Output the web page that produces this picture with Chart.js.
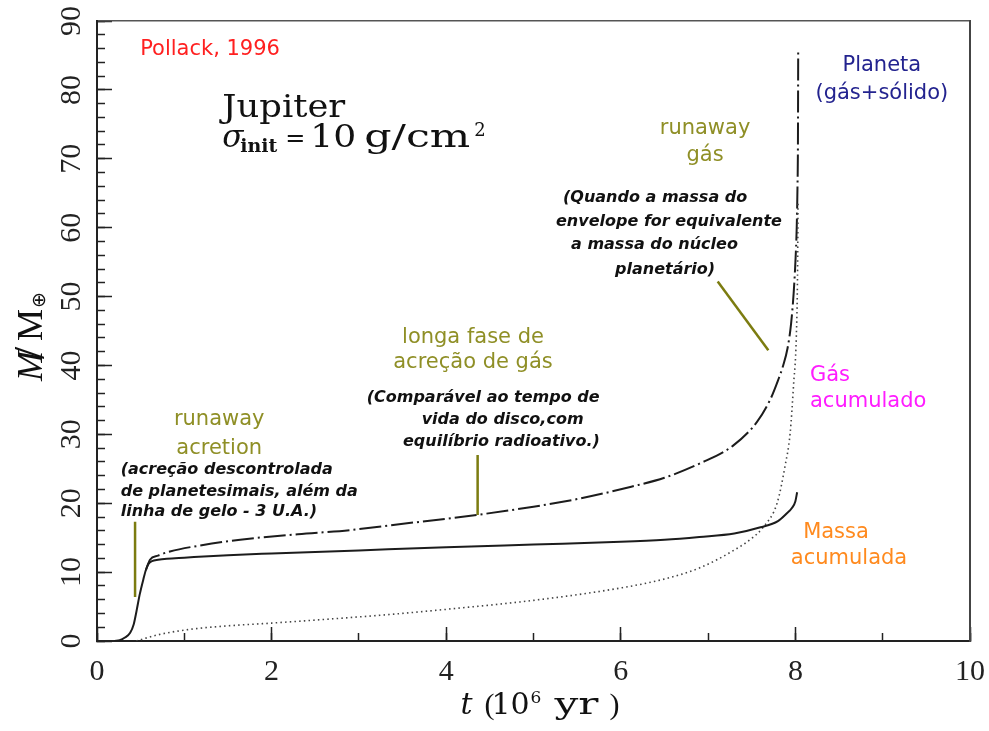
<!DOCTYPE html>
<html>
<head>
<meta charset="utf-8">
<script src="https://cdn.jsdelivr.net/npm/chart.js"></script>
<style>
  html, body { margin: 0; padding: 0; background: #fff; }
  canvas { display: block; }
</style>
</head>
<body>
<canvas id="mass-chart" width="989" height="731"></canvas>
<script>
/* ==========================
   Data (t in 10^6 yr, M in Earth masses)
========================== */
const xTicks = [0, 2, 4, 6, 8, 10];
const yTicks = [0, 10, 20, 30, 40, 50, 60, 70, 80, 90];

// solid core
const coreTime = [0.20, 0.26, 0.32, 0.38, 0.42, 0.455, 0.49, 0.53, 0.56, 0.59, 0.63, 0.70, 0.80, 1.0, 1.5, 2.0, 3.0, 4.0, 5.0, 6.0, 6.5, 6.9, 7.3, 7.6, 7.8, 7.9, 7.96, 8.0, 8.02];
const coreMass = [0, 0.1, 0.5, 1.2, 2.4, 4.5, 6.8, 8.9, 10.3, 11.2, 11.6, 11.8, 11.95, 12.1, 12.45, 12.7, 13.15, 13.6, 14.0, 14.4, 14.7, 15.1, 15.6, 16.5, 17.4, 18.5, 19.3, 20.3, 21.6];

// accreted gas
const gasTime = [0.45, 0.7, 1.07, 1.5, 2.0, 3.0, 3.4, 4.0, 5.0, 6.0, 6.5, 6.9, 7.3, 7.5, 7.63, 7.79, 7.88, 7.94, 7.98, 8.01, 8.025, 8.03];
const gasMass = [0, 0.9, 1.7, 2.2, 2.6, 3.5, 3.9, 4.6, 5.9, 7.7, 9.0, 10.6, 13.2, 14.9, 16.5, 20.0, 25.3, 30.2, 37.4, 44, 54, 63.5];

// total planet mass (gas + solid)
const planetTime = [0.56, 0.607, 0.70, 0.836, 1.2, 1.64, 2.3, 2.9, 3.36, 4.35, 5.0, 5.5, 6.12, 6.5, 6.91, 7.29, 7.56, 7.71, 7.80, 7.86, 7.91, 7.95, 7.98, 8.0, 8.015, 8.024, 8.029, 8.032];
const planetMass = [10.3, 11.8, 12.4, 13.0, 13.9, 14.7, 15.5, 16.1, 16.8, 18.3, 19.5, 20.6, 22.4, 23.7, 25.8, 28.4, 31.8, 35.0, 37.8, 40.0, 42.5, 46.0, 50.5, 55.0, 60.0, 66.0, 72.0, 85.5];

// olive pointer lines
const acretionPointerT = [0.436, 0.436];
const acretionPointerM = [17.3, 6.4];
const longPhasePointerT = [4.36, 4.36];
const longPhasePointerM = [27.0, 18.3];
const runawayPointerT = [7.11, 7.69];
const runawayPointerM = [52.2, 42.2];

const zip = (ts, ms) => ts.map((t, i) => ({ x: t, y: ms[i] }));

/* ==========================
   Styles
========================== */
const ink = '#1c1c1c';
const olive = '#8f8f26';
const oliveLine = '#7c7c10';
const labelFont = '21px "DejaVu Sans"';
const noteFont = 'italic bold 16px "DejaVu Sans"';

// text placed in data coordinates: [text, t, M]
const textLabels = [
  { rows: [['Pollack, 1996', 0.494, 85.8]], font: labelFont, color: '#ff2020', align: 'left' },
  { rows: [['runaway', 1.40, 32.2], ['acretion', 1.40, 28.0]], font: labelFont, color: olive, align: 'center' },
  { rows: [['(acreção descontrolada', 0.272, 24.8], ['de planetesimais, além da', 0.272, 21.7], ['linha de gelo - 3 U.A.)', 0.272, 18.8]], font: noteFont, color: '#111', align: 'left' },
  { rows: [['longa fase de', 4.307, 44.0], ['acreção de gás', 4.307, 40.35]], font: labelFont, color: olive, align: 'center' },
  { rows: [['(Comparável ao tempo de', 3.089, 35.27], ['vida do disco,com', 3.719, 32.08], ['equilíbrio radioativo.)', 3.505, 28.93]], font: noteFont, color: '#111', align: 'left' },
  { rows: [['runaway', 6.965, 74.4], ['gás', 6.965, 70.5]], font: labelFont, color: olive, align: 'center' },
  { rows: [['(Quando a massa do', 5.338, 64.3], ['envelope for equivalente', 5.258, 60.8], ['a massa do núcleo', 5.43, 57.47], ['planetário)', 5.934, 53.85]], font: noteFont, color: '#111', align: 'left' },
  { rows: [['Planeta', 8.99, 83.6], ['(gás+sólido)', 8.99, 79.5]], font: labelFont, color: '#23238f', align: 'center' },
  { rows: [['Gás', 8.167, 38.6], ['acumulado', 8.167, 34.7]], font: labelFont, color: '#ff1cff', align: 'left' },
  { rows: [['Massa', 8.465, 15.8], ['acumulada', 8.614, 11.9]], font: labelFont, color: '#ff8a1e', align: 'center' }
];

// draws text stretched to a given width
function fitText(ctx, text, px, py, width) {
  ctx.save();
  ctx.translate(px, py);
  ctx.scale(width / ctx.measureText(text).width, 1);
  ctx.fillText(text, 0, 0);
  ctx.restore();
}

/* ==========================
   Text plugin: notes, title block, axis titles
========================== */
const textPlugin = {
  id: 'textPlugin',
  afterDatasetsDraw(chart) {
    const { ctx, scales: { x, y } } = chart;
    ctx.save();
    ctx.textBaseline = 'middle';
    textLabels.forEach(lab => {
      ctx.font = lab.font;
      ctx.fillStyle = lab.color;
      ctx.textAlign = lab.align;
      lab.rows.forEach(([text, t, m]) => {
        ctx.fillText(text, x.getPixelForValue(t), y.getPixelForValue(m));
      });
    });

    // Jupiter / sigma_init block
    ctx.textBaseline = 'alphabetic';
    ctx.textAlign = 'left';
    ctx.fillStyle = '#111';
    const jx = x.getPixelForValue(1.435);
    ctx.font = '31px "DejaVu Serif"';
    fitText(ctx, 'Jupiter', jx, y.getPixelForValue(76.1), 123);
    const sy = y.getPixelForValue(71.74);
    ctx.font = 'italic 31px "DejaVu Serif"';
    ctx.fillText('σ', jx, sy);
    ctx.font = 'bold 19px "DejaVu Serif"';
    ctx.fillText('init', jx + 18, sy + 5);
    ctx.font = '24px "DejaVu Serif"';
    ctx.fillText('=', jx + 63, sy - 1);
    ctx.font = '31px "DejaVu Serif"';
    fitText(ctx, '10', jx + 88, sy, 46);
    fitText(ctx, 'g/cm', jx + 142, sy, 106);
    ctx.font = '18px "DejaVu Serif"';
    ctx.fillText('2', jx + 252, sy - 11);

    // x axis title
    const a = chart.chartArea;
    const tx = (a.left + a.right) / 2 - 73;
    const ty = 714;
    ctx.font = 'italic 30px "DejaVu Serif"';
    ctx.fillText('t', tx, ty);
    ctx.font = '30px "Liberation Serif"';
    ctx.fillText('(', tx + 24, ty);
    ctx.font = '30px "DejaVu Serif"';
    ctx.fillText('10', tx + 31, ty);
    ctx.font = '17px "DejaVu Serif"';
    ctx.fillText('6', tx + 70, ty - 11);
    ctx.font = '30px "DejaVu Serif"';
    fitText(ctx, 'yr', tx + 94, ty, 44);
    ctx.font = '30px "Liberation Serif"';
    ctx.fillText(')', tx + 149, ty);

    // y axis title, reads bottom to top
    ctx.translate(42, 381);
    ctx.rotate(-Math.PI / 2);
    ctx.font = 'italic 36px "Liberation Serif"';
    ctx.fillText('M', 0, 0);
    ctx.font = '44px "Liberation Serif"';
    ctx.fillText('/', 22, 2);
    ctx.font = '36px "Liberation Serif"';
    ctx.fillText('M', 40, 0);
    ctx.font = '19px "DejaVu Sans"';
    ctx.fillText('⊕', 73, 3);
    ctx.restore();
  }
};

/* ==========================
   Chart
========================== */
const axisInk = '#222';
const tickFont = { family: 'Liberation Serif', size: 30 };

// keep tick-label overhang from shrinking the plot area
const noPadding = s => { s.paddingLeft = 0; s.paddingRight = 0; s.paddingTop = 0; s.paddingBottom = 0; };

const pointerSet = (ts, ms) => ({
  data: zip(ts, ms),
  borderColor: oliveLine,
  borderWidth: 2.5,
  pointRadius: 0,
  tension: 0
});

new Chart(document.getElementById('mass-chart').getContext('2d'), {
  type: 'line',
  data: {
    datasets: [
      {
        label: 'Massa acumulada',
        data: zip(coreTime, coreMass),
        borderColor: ink,
        borderWidth: 2,
        pointRadius: 0,
        cubicInterpolationMode: 'monotone'
      },
      {
        label: 'Gás acumulado',
        data: zip(gasTime, gasMass),
        borderColor: '#444',
        borderWidth: 1.6,
        borderDash: [1.5, 3.2],
        pointRadius: 0,
        cubicInterpolationMode: 'monotone'
      },
      {
        label: 'Planeta (gás+sólido)',
        data: zip(planetTime, planetMass),
        borderColor: ink,
        borderWidth: 2,
        borderDash: [22, 4, 2, 4],
        pointRadius: 0,
        cubicInterpolationMode: 'monotone'
      },
      pointerSet(acretionPointerT, acretionPointerM),
      pointerSet(longPhasePointerT, longPhasePointerM),
      pointerSet(runawayPointerT, runawayPointerM)
    ]
  },
  options: {
    responsive: false,
    animation: false,
    devicePixelRatio: 1,
    layout: { padding: { top: 21, right: 19, left: 0, bottom: 0 } },
    plugins: {
      legend: { display: false },
      tooltip: { enabled: false }
    },
    scales: {
      x: {
        type: 'linear',
        position: 'bottom',
        min: 0,
        max: 10,
        weight: 1,
        afterBuildTicks: s => { s.ticks = xTicks.map(v => ({ value: v })); },
        ticks: { autoSkip: false, minRotation: 0, maxRotation: 0, padding: 27, color: axisInk, font: tickFont },
        grid: { drawOnChartArea: false, tickLength: -14, tickWidth: 1.5, tickColor: axisInk },
        border: { display: true, color: axisInk, width: 2 },
        afterFit: s => { s.height = 90; noPadding(s); }
      },
      xMinor: {
        type: 'linear',
        position: 'bottom',
        min: 0,
        max: 10,
        weight: 0,
        ticks: { display: false, stepSize: 1 },
        grid: { drawOnChartArea: false, tickLength: -8, tickWidth: 1.5, tickColor: axisInk },
        border: { display: false },
        afterFit: s => { s.height = 0; noPadding(s); }
      },
      xTop: {
        type: 'linear',
        position: 'top',
        min: 0,
        max: 10,
        ticks: { display: false },
        grid: { display: false },
        border: { display: true, color: '#555', width: 1.5 },
        afterFit: s => { s.height = 0; noPadding(s); }
      },
      y: {
        type: 'linear',
        position: 'left',
        min: 0,
        max: 90,
        weight: 1,
        afterBuildTicks: s => { s.ticks = yTicks.map(v => ({ value: v })); },
        ticks: { minRotation: 90, maxRotation: 90, crossAlign: 'center', padding: 25, color: axisInk, font: tickFont },
        grid: { drawOnChartArea: false, tickLength: -15, tickWidth: 1.5, tickColor: axisInk },
        border: { display: true, color: axisInk, width: 2 },
        afterFit: s => { s.width = 97; noPadding(s); }
      },
      yMinor: {
        type: 'linear',
        position: 'left',
        min: 0,
        max: 90,
        weight: 0,
        ticks: { display: false, stepSize: 2 },
        grid: { drawOnChartArea: false, tickLength: -8, tickWidth: 1.5, tickColor: axisInk },
        border: { display: false },
        afterFit: s => { s.width = 0; noPadding(s); }
      },
      yRight: {
        type: 'linear',
        position: 'right',
        min: 0,
        max: 90,
        ticks: { display: false },
        grid: { display: false },
        border: { display: true, color: '#444', width: 2 },
        afterFit: s => { s.width = 0; noPadding(s); }
      }
    }
  },
  plugins: [textPlugin]
});
</script>
</body>
</html>
